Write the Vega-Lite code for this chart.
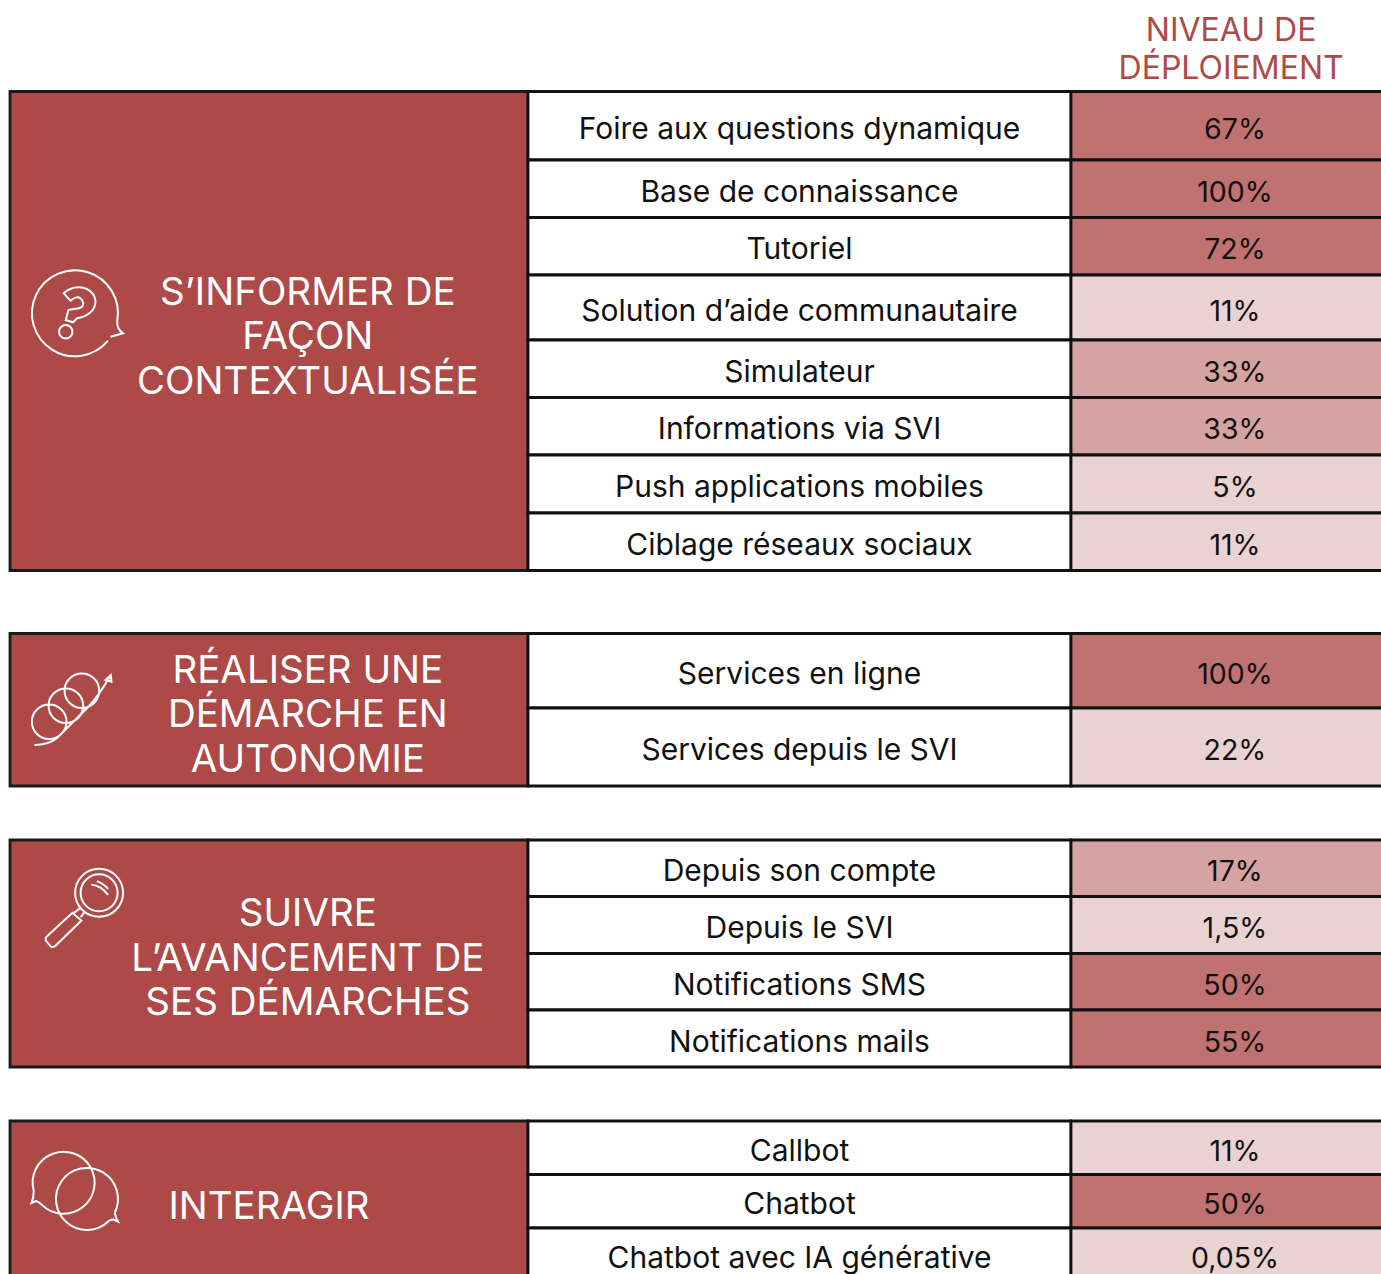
{
"$schema":"https://vega.github.io/schema/vega-lite/v6.json",
"width":1381,"height":1274,"padding":0,"autosize":{"type":"none"},
"background":"#ffffff",
"config":{"view":{"stroke":null},"axis":{"disable":true},"legend":{"disable":true}},
"datasets":{
"lignes":[
{"groupe":"informer","rang":0,"libelle":"Foire aux questions dynamique","taux":"67%","niveau":"fort"},
{"groupe":"informer","rang":1,"libelle":"Base de connaissance","taux":"100%","niveau":"fort"},
{"groupe":"informer","rang":2,"libelle":"Tutoriel","taux":"72%","niveau":"fort"},
{"groupe":"informer","rang":3,"libelle":"Solution d’aide communautaire","taux":"11%","niveau":"faible"},
{"groupe":"informer","rang":4,"libelle":"Simulateur","taux":"33%","niveau":"moyen"},
{"groupe":"informer","rang":5,"libelle":"Informations via SVI","taux":"33%","niveau":"moyen"},
{"groupe":"informer","rang":6,"libelle":"Push applications mobiles","taux":"5%","niveau":"faible"},
{"groupe":"informer","rang":7,"libelle":"Ciblage réseaux sociaux","taux":"11%","niveau":"faible"},
{"groupe":"realiser","rang":9,"libelle":"Services en ligne","taux":"100%","niveau":"fort"},
{"groupe":"realiser","rang":10,"libelle":"Services depuis le SVI","taux":"22%","niveau":"faible"},
{"groupe":"suivre","rang":12,"libelle":"Depuis son compte","taux":"17%","niveau":"moyen"},
{"groupe":"suivre","rang":13,"libelle":"Depuis le SVI","taux":"1,5%","niveau":"faible"},
{"groupe":"suivre","rang":14,"libelle":"Notifications SMS","taux":"50%","niveau":"fort"},
{"groupe":"suivre","rang":15,"libelle":"Notifications mails","taux":"55%","niveau":"fort"},
{"groupe":"interagir","rang":17,"libelle":"Callbot","taux":"11%","niveau":"faible"},
{"groupe":"interagir","rang":18,"libelle":"Chatbot","taux":"50%","niveau":"fort"},
{"groupe":"interagir","rang":19,"libelle":"Chatbot avec IA générative","taux":"0,05%","niveau":"faible"}
],
"titres":[
{"groupe":"informer","titre":["S’INFORMER DE","FAÇON","CONTEXTUALISÉE"]},
{"groupe":"realiser","titre":["RÉALISER UNE","DÉMARCHE EN","AUTONOMIE"]},
{"groupe":"suivre","titre":["SUIVRE","L’AVANCEMENT DE","SES DÉMARCHES"]},
{"groupe":"interagir","titre":["INTERAGIR"]},
{"groupe":"entete","titre":["NIVEAU DE","DÉPLOIEMENT"]}
]
},
"data":{"name":"lignes"},
"transform":[{"calculate":"datum.rang+1","as":"fin"},{"calculate":"datum.rang+0.5","as":"milieu"}],
"encoding":{
"x":{"scale":{"type":"linear","domain":[0,1,2,3],"range":[10,528,1071,1390],"zero":false,"nice":false,"clamp":false}},
"y":{"scale":{"type":"linear","domain":[-1,0,1,2,3,4,5,6,7,8,9,10,11,12,13,14,15,16,17,18,19,20],"range":[30.5,91.5,160,217.5,275,340,397.5,455,513,570.5,633.5,708,786,840,896.5,953.5,1010,1067,1121,1174.5,1228,1282],"zero":false,"nice":false}}
},
"layer":[
{"transform":[{"aggregate":[{"op":"min","field":"rang","as":"debut"},{"op":"max","field":"fin","as":"bas"}],"groupby":["groupe"]}],
"mark":{"type":"rect","fill":"#ad4947","stroke":"#1a1a1a","strokeWidth":2.8},
"encoding":{"x":{"datum":0,"type":"quantitative"},"x2":{"datum":1},"y":{"field":"debut","type":"quantitative"},"y2":{"field":"bas"}}},
{"mark":{"type":"rect","fill":"#ffffff","stroke":"#111111","strokeWidth":2.8},
"encoding":{"x":{"datum":1,"type":"quantitative"},"x2":{"datum":2},"y":{"field":"rang","type":"quantitative"},"y2":{"field":"fin"}}},
{"mark":{"type":"rect","stroke":"#111111","strokeWidth":2.8},
"encoding":{"x":{"datum":2,"type":"quantitative"},"x2":{"datum":3},"y":{"field":"rang","type":"quantitative"},"y2":{"field":"fin"},
"fill":{"field":"niveau","type":"nominal","scale":{"domain":["fort","moyen","faible"],"range":["#c07270","#d5a3a1","#e9d2d1"]},"legend":null}}},
{"mark":{"type":"text","font":"Inter","fontSize":30,"color":"#111111","baseline":"middle","align":"center","dy":4},
"encoding":{"x":{"datum":1.5,"type":"quantitative"},"y":{"field":"milieu","type":"quantitative"},"text":{"field":"libelle"}}},
{"mark":{"type":"text","font":"Inter","fontSize":28.5,"color":"#111111","baseline":"middle","align":"center","dy":4},
"encoding":{"x":{"datum":2.514,"type":"quantitative"},"y":{"field":"milieu","type":"quantitative"},"text":{"field":"taux"}}},
{"data":{"name":"titres"},"transform":[{"filter":"datum.groupe=='informer'"}],"mark":{"type":"text","font":"Inter","fontSize":38.5,"color":"#ffffff","baseline":"middle","align":"center","lineHeight":44.5},
"encoding":{"x":{"datum":0.575,"type":"quantitative"},"y":{"datum":3.27,"type":"quantitative"},"text":{"field":"titre"}}},
{"data":{"name":"titres"},"transform":[{"filter":"datum.groupe=='realiser'"}],"mark":{"type":"text","font":"Inter","fontSize":38.5,"color":"#ffffff","baseline":"middle","align":"center","lineHeight":44.5},
"encoding":{"x":{"datum":0.575,"type":"quantitative"},"y":{"datum":9.503,"type":"quantitative"},"text":{"field":"titre"}}},
{"data":{"name":"titres"},"transform":[{"filter":"datum.groupe=='suivre'"}],"mark":{"type":"text","font":"Inter","fontSize":38.5,"color":"#ffffff","baseline":"middle","align":"center","lineHeight":44.5},
"encoding":{"x":{"datum":0.575,"type":"quantitative"},"y":{"datum":13.31,"type":"quantitative"},"text":{"field":"titre"}}},
{"data":{"name":"titres"},"transform":[{"filter":"datum.groupe=='interagir'"}],"mark":{"type":"text","font":"Inter","fontSize":38.5,"color":"#ffffff","baseline":"middle","align":"center","lineHeight":44.5},
"encoding":{"x":{"datum":0.5,"type":"quantitative"},"y":{"datum":18.6,"type":"quantitative"},"text":{"field":"titre"}}},
{"data":{"name":"titres"},"transform":[{"filter":"datum.groupe=='entete'"}],"mark":{"type":"text","font":"Inter","fontSize":32,"color":"#ae4a48","baseline":"middle","align":"center","lineHeight":38},
"encoding":{"x":{"datum":2.502,"type":"quantitative"},"y":{"datum":-1,"type":"quantitative"},"text":{"field":"titre"}}},
{"data":{"values":[{"icone":"informer"}]},"mark":{"type":"point","filled":false,"stroke":"#ffffff","strokeWidth":2,"size":4,"opacity":1,"shape":"M33.3 26.7A43 43 0 1 1 42.5 7Q42 15 48.3 19.3L35.7 22.7M-11 -20.7C-4 -27 1 -27 5 -26.7C14 -26 21 -20 20.7 -11.7C20 -3 12 3 2.3 4.3L-1.7 8.3L-9 6L-6.3 -4C-2 -5 2 -5 5 -6C8 -7 9 -9 8.3 -11.7C7 -15 5 -16.5 3.3 -16.7C0 -17 -2 -15 -4.3 -13.3ZM-2.3 17.7A6.7 6.7 0 1 1 -15.7 17.7A6.7 6.7 0 1 1 -2.3 17.7"},
"encoding":{"x":{"datum":0.125,"type":"quantitative"},"y":{"datum":3.6,"type":"quantitative"}}},
{"data":{"values":[{"icone":"realiser"}]},"mark":{"type":"point","filled":false,"stroke":"#ffffff","strokeWidth":2,"size":4,"opacity":1,"shape":"M-37.7 37C-28 37 -20 34 -15.3 30.3L14.7 .3C22 -7 30 -18 38 -32M38.7 -33L33.3 -28L39.3 -26.3ZM27 -17.3A17.3 17.3 0 1 1 -7.6 -17.3A17.3 17.3 0 1 1 27 -17.3M11 -2.3A17.3 17.3 0 1 1 -23.6 -2.3A17.3 17.3 0 1 1 11 -2.3M-5.7 13.7A17.3 17.3 0 1 1 -40.3 13.7A17.3 17.3 0 1 1 -5.7 13.7"},
"encoding":{"x":{"datum":0.12,"type":"quantitative"},"y":{"datum":10,"type":"quantitative"}}},
{"data":{"values":[{"icone":"suivre"}]},"mark":{"type":"point","filled":false,"stroke":"#ffffff","strokeWidth":2,"size":4,"opacity":1,"shape":"M24 0A24 24 0 1 1 -24 0A24 24 0 1 1 24 0M18.5 0A18.5 18.5 0 1 1 -18.5 0A18.5 18.5 0 1 1 18.5 0M-7.7 -8Q1.7 -7.3 9 2M-2.3 -11.7Q5 -9 9 -4M-26.7 20L-17.7 27.7L-43.3 52.7Q-46 55 -48.3 53.7L-53.3 47.7Q-54 45 -52.3 43.7ZM-19 15.3L-25 20M-14.3 18.7L-18.3 24.3"},
"encoding":{"x":{"datum":0.172,"type":"quantitative"},"y":{"datum":12.935,"type":"quantitative"}}},
{"data":{"values":[{"icone":"interagir"}]},"mark":{"type":"point","filled":false,"stroke":"#ffffff","strokeWidth":2,"size":4,"opacity":1,"shape":"M-41 -1.7A31 31 0 1 1 -32.7 12.3Q-36 9 -38.7 8.3L-43.3 10.3Q-41 5 -41 -1.7M40 20A31 31 0 1 0 34 28.3Q36 27 38 26.7L43.3 29Q41 25 40 20"},
"encoding":{"x":{"datum":0.125,"type":"quantitative"},"y":{"datum":18.34,"type":"quantitative"}}}
]
}
